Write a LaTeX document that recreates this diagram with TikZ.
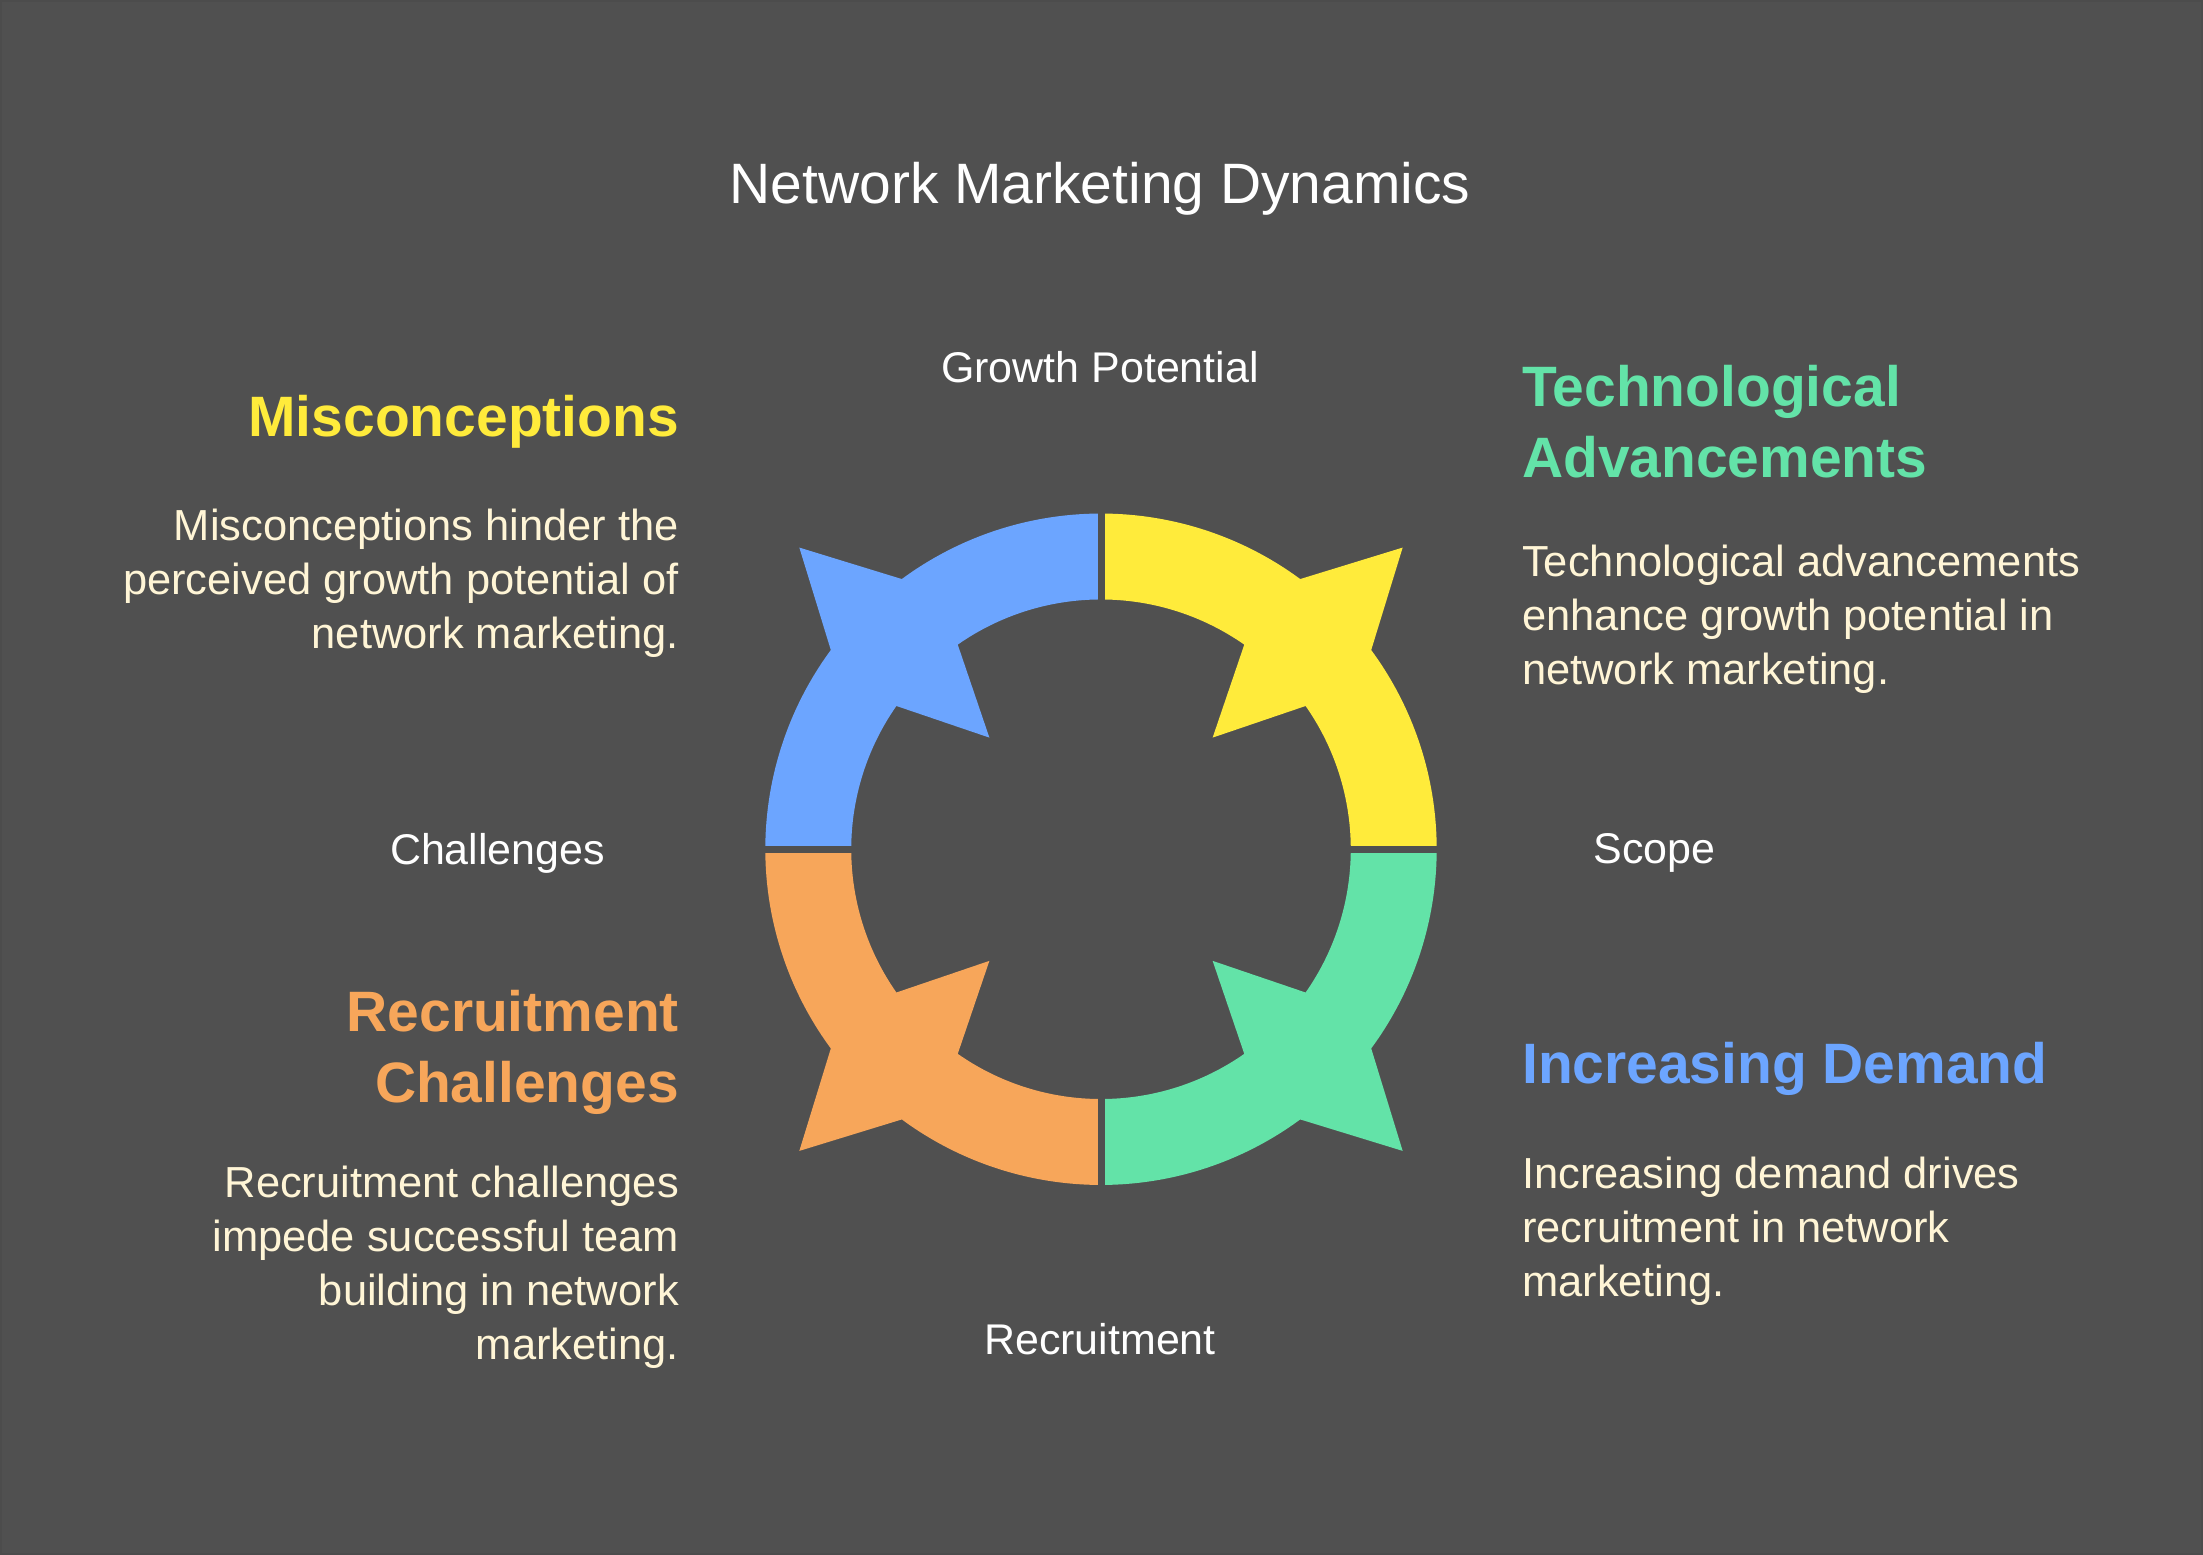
\documentclass[tikz,border=0pt]{standalone}
\usepackage{fontspec}
\setmainfont{Liberation Sans}
\definecolor{bg}{HTML}{505050}
\definecolor{cy}{HTML}{FFEB3B}
\definecolor{cb}{HTML}{6CA5FF}
\definecolor{cg}{HTML}{63E3A8}
\definecolor{co}{HTML}{F7A65A}
\definecolor{cream}{HTML}{FFF5D6}
\begin{document}
\begin{tikzpicture}[x=1pt,y=-1pt,
  lab/.style={text=white,font=\fontsize{43}{54}\selectfont},
  body/.style={text=cream,font=\fontsize{43.5}{54}\selectfont},
  head/.style={font=\bfseries\fontsize{57}{71}\selectfont}]
\fill[bg,draw=black!70,line width=2pt] (0,0) rectangle (2203,1554);
\useasboundingbox (0,0) rectangle (2203,1554);
\def\R{336}\def\r{250}
\newcommand{\seg}[3]{% color, start angle (math, y-up), mid
 \fill[#1,shift={(1101,849)},y=1pt] (#2:\R) arc[start angle=#2,end angle=#3-8.6,radius=\R]
  -- (#3:427) -- (#3+8.6:\R) arc[start angle=#3+8.6,end angle=#2+90,radius=\R]
  -- (#2+90:\r) arc[start angle=#2+90,end angle=#3+10,radius=\r]
  -- (#3:158) -- (#3-10:\r) arc[start angle=#3-10,end angle=#2,radius=\r] -- cycle;}
\seg{cy}{0}{45}
\seg{cb}{90}{135}
\seg{co}{180}{225}
\seg{cg}{270}{315}
\draw[bg,line width=7pt] (1101,500) -- (1101,1200) (750,849) -- (1450,849);
\node[text=white,font=\fontsize{57}{66}\selectfont] (title) at (1100,188) {Network Marketing Dynamics};
\node[lab] (gp) at (1100,366) {Growth Potential};
\node[lab] (ch) at (497,853) {Challenges};
\node[lab] (sc) at (1655,853) {Scope};
\node[lab] (re) at (1100,1339) {Recruitment};
\node[head,text=cy,anchor=east] (h1) at (682,421) {Misconceptions};
\node[body,align=right,anchor=east] (b1) at (682,583) {Misconceptions hinder the\\perceived growth potential of\\network marketing.};
\node[head,text=cg,anchor=west,align=left] (h2) at (1519,421) {Technological\\Advancements};
\node[body,align=left,anchor=west] (b2) at (1519,619) {Technological advancements\\enhance growth potential in\\network marketing.};
\node[head,text=co,anchor=east,align=right] (h3) at (682,1052) {Recruitment\\Challenges};
\node[body,align=right,anchor=east] (b3) at (682,1267) {Recruitment challenges\\impede successful team\\building in network\\marketing.};
\node[head,text=cb,anchor=west] (h4) at (1519,1069) {Increasing Demand};
\node[body,align=left,anchor=west] (b4) at (1519,1231) {Increasing demand drives\\recruitment in network\\marketing.};
\end{tikzpicture}
\end{document}
